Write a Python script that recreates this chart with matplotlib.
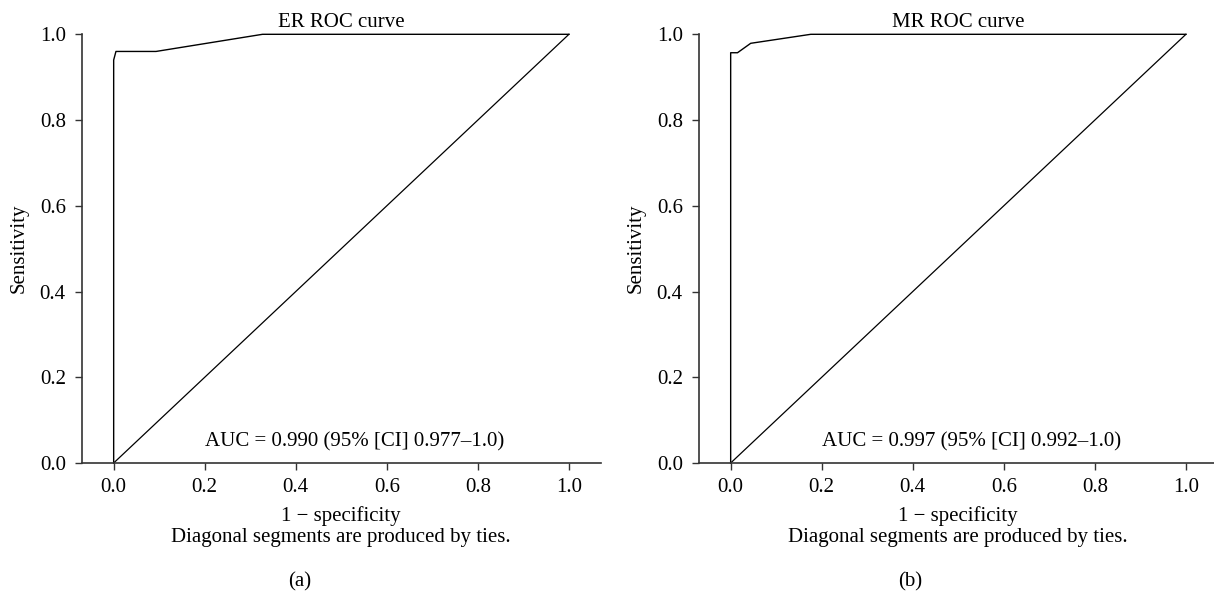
import matplotlib
matplotlib.use("Agg")
import matplotlib.pyplot as plt

plt.rcParams['font.family'] = ['Liberation Serif', 'DejaVu Serif']

# ---- data ----
er_fpr = [0.0, 0.0, 0.005, 0.093, 0.327, 1.0]
er_tpr = [0.0, 0.94, 0.96, 0.96, 1.0, 1.0]
mr_fpr = [0.0, 0.0, 0.015, 0.044, 0.176, 1.0]
mr_tpr = [0.0, 0.957, 0.957, 0.979, 1.0, 1.0]
diag = [0.0, 1.0]
ticks = [0.0, 0.2, 0.4, 0.6, 0.8, 1.0]
tick_labels = ["0.0", "0.2", "0.4", "0.6", "0.8", "1.0"]
titles = ["ER ROC curve", "MR ROC curve"]
auc_texts = ["AUC = 0.990 (95% [CI] 0.977\u20131.0)",
             "AUC = 0.997 (95% [CI] 0.992\u20131.0)"]
panel_labels = ["(a)", "(b)"]
xlabel = "1 \u2212 specificity\nDiagonal segments are produced by ties."
ylabel = "Sensitivity"

W, H = 1214, 593
fig = plt.figure(figsize=(W / 100, H / 100), dpi=100)
fs = 15
spine_col = "#333333"

lefts_px = [81.8, 698.8]
panel_x_px = [300, 910]
width_px = 519
bottom_px = 463
height_px = 428.7

curves = [(er_fpr, er_tpr), (mr_fpr, mr_tpr)]
for i in range(2):
    ax = fig.add_axes([lefts_px[i] / W, (H - bottom_px) / H, width_px / W, height_px / H])
    fx, fy = curves[i]
    ax.plot(fx, fy, color="black", lw=1.0, clip_on=False)
    ax.plot(diag, diag, color="black", lw=0.9, clip_on=False)
    ax.set_xlim(-0.07, 1.07)
    ax.set_ylim(0, 1)
    ax.spines['top'].set_visible(False)
    ax.spines['right'].set_visible(False)
    for s in ('left', 'bottom'):
        ax.spines[s].set_color(spine_col)
        ax.spines[s].set_linewidth(1.2)
    ax.spines['left'].set_bounds(0, 1)
    ax.set_xticks(ticks)
    ax.set_xticklabels(tick_labels)
    ax.set_yticks(ticks)
    ax.set_yticklabels(tick_labels)
    ax.tick_params(axis='both', direction='out', length=5, width=1.0,
                   color=spine_col, labelsize=fs)
    ax.tick_params(axis='x', pad=6)
    ax.tick_params(axis='y', pad=6.5)
    ax.set_xlabel(xlabel, fontsize=fs, labelpad=6, linespacing=1.2)
    ax.set_ylabel(ylabel, fontsize=fs, labelpad=8)
    ax.set_title(titles[i], fontsize=fs, pad=5)
    ax.text(0.53, 0.05, auc_texts[i], fontsize=fs, ha='center', va='center')
    fig.text(panel_x_px[i] / W, (H - 582) / H, panel_labels[i], fontsize=fs,
             ha='center', va='center')

fig.savefig("out.png", dpi=100)
